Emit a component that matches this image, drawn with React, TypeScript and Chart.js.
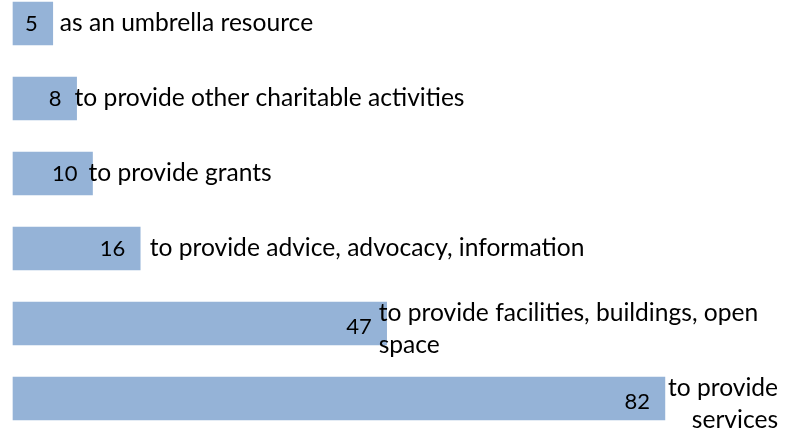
import React, { useEffect, useRef } from "react";
import { Chart, registerables } from "chart.js";

Chart.register(...registerables);

const categories: string[][] = [
  ["as an umbrella resource"],
  ["to provide other charitable activities"],
  ["to provide grants"],
  ["to provide advice, advocacy, information"],
  ["to provide facilities, buildings, open", "space"],
  ["to provide", "services"],
];
const values: number[] = [5, 8, 10, 16, 47, 82];
const xMax = 96;

// label nudges (style only)
const labelDx: number[] = [7, -2, -4, 9.5, -8, 3];
const labelAlign: string[] = ["left", "left", "left", "left", "left", "right"];

const FONT = "Lato";
const CAT_SIZE = 24.6;
const VAL_SIZE = 22;
const TEXT = "#000000";
const BAR = "#95B3D7";

const labelPlugin = {
  id: "barLabels",
  afterDatasetsDraw(chart: any) {
    const ctx = chart.ctx;
    const meta = chart.getDatasetMeta(0);
    ctx.save();
    meta.data.forEach((bar: any, i: number) => {
      const lines = categories[i];
      const multi = lines.length > 1;
      ctx.font = `${VAL_SIZE}px ${FONT}`;
      ctx.fillStyle = TEXT;
      ctx.textAlign = "right";
      ctx.textBaseline = "middle";
      ctx.fillText(String(values[i]), bar.x - 15, bar.y + (multi ? 3 : 0));
      ctx.font = `${CAT_SIZE}px ${FONT}`;
      const lh = 32;
      const blockCenter = bar.y + (multi ? 6 : 0);
      const startY = blockCenter - ((lines.length - 1) * lh) / 2;
      const left = bar.x + labelDx[i];
      const maxW = Math.max(...lines.map((l) => ctx.measureText(l).width));
      lines.forEach((line, j) => {
        if (labelAlign[i] === "right") {
          ctx.textAlign = "right";
          ctx.fillText(line, left + maxW, startY + j * lh);
        } else {
          ctx.textAlign = "left";
          ctx.fillText(line, left, startY + j * lh);
        }
      });
    });
    ctx.restore();
  },
};

export default function App() {
  const ref = useRef<HTMLCanvasElement>(null);
  useEffect(() => {
    document.body.style.margin = "0";
    const chart = new Chart(ref.current as HTMLCanvasElement, {
      type: "bar",
      data: {
        labels: categories.map((c) => c.join(" ")),
        datasets: [
          {
            data: values,
            backgroundColor: BAR,
            borderWidth: 0,
            barThickness: 43,
            clip: false,
          },
        ],
      },
      options: {
        indexAxis: "y",
        animation: false,
        responsive: false,
        maintainAspectRatio: false,
        layout: {
          padding: {
            left: 13,
            right: 785 - 13 - xMax * 7.95,
            top: 23.5,
            bottom: 34.5,
          },
        },
        scales: {
          x: { display: false, min: 0, max: xMax },
          y: { display: false, offset: false, grid: { offset: false } },
        },
        plugins: {
          legend: { display: false },
          tooltip: { enabled: false },
        },
      },
      plugins: [labelPlugin],
    });
    return () => chart.destroy();
  }, []);
  return (
    <div style={{ position: "absolute", left: 0, top: 0, width: 785, height: 433, background: "#fff" }}>
      <canvas ref={ref} width={785} height={433} />
    </div>
  );
}
